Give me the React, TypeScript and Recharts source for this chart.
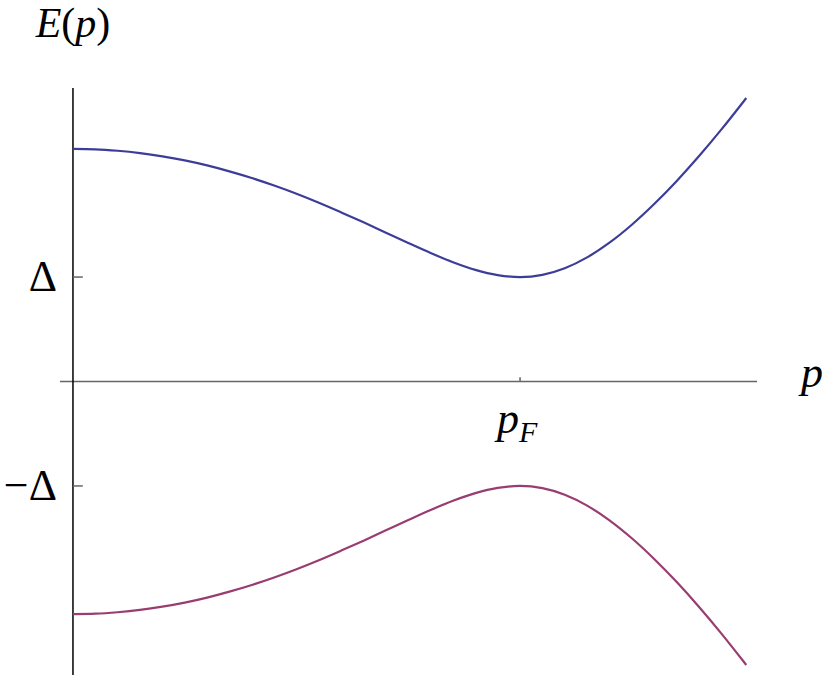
import { LineChart, Line, XAxis, YAxis, ReferenceLine } from "recharts";

// momentum in units of p_F, energy in units of Delta
const pValues = [0, 0.05, 0.1, 0.15, 0.2, 0.25, 0.3, 0.35, 0.4, 0.45, 0.5, 0.55, 0.6, 0.65, 0.7, 0.75, 0.8, 0.85, 0.9, 0.95, 1, 1.05, 1.1, 1.15, 1.2, 1.25, 1.3, 1.35, 1.4, 1.45, 1.5, 1.506];
const upperE = [2.227, 2.223, 2.209, 2.187, 2.156, 2.117, 2.069, 2.012, 1.948, 1.876, 1.797, 1.711, 1.619, 1.524, 1.425, 1.326, 1.23, 1.142, 1.069, 1.019, 1.0, 1.021, 1.084, 1.188, 1.329, 1.501, 1.699, 1.918, 2.156, 2.411, 2.681, 2.714];
const lowerE = [-2.227, -2.223, -2.209, -2.187, -2.156, -2.117, -2.069, -2.012, -1.948, -1.876, -1.797, -1.711, -1.619, -1.524, -1.425, -1.326, -1.23, -1.142, -1.069, -1.019, -1.0, -1.021, -1.084, -1.188, -1.329, -1.501, -1.699, -1.918, -2.156, -2.411, -2.681, -2.714];

const data = pValues.map((p, i) => ({ p, upper: upperE[i], lower: lowerE[i] }));

const txt = { fontFamily: '"Liberation Serif", "Times New Roman", serif' };
const gray = "#666";

export default function App() {
  return (
    <div style={{ position: "absolute", left: 0, top: 0 }}>
      <LineChart width={830} height={676} data={data} margin={{ top: 88, right: 73, bottom: 1, left: 60 }}>
        <XAxis type="number" dataKey="p" domain={[-0.029, 1.53]} hide allowDataOverflow />
        <YAxis type="number" domain={[-2.81, 2.81]} hide allowDataOverflow />

        {/* x axis with p label */}
        <ReferenceLine y={0} stroke={gray} strokeWidth={1.5}
          label={(props: any) => {
            const vb = props.viewBox;
            return <text x={vb.x + vb.width + 44} y={vb.y + 5} style={txt} fontSize={44} fontStyle="italic" fill="#000">p</text>;
          }} />
        {/* y axis with E(p) label */}
        <ReferenceLine x={0} stroke="#000" strokeWidth={1.5}
          label={(props: any) => {
            const vb = props.viewBox;
            return (
              <text x={vb.x} y={vb.y - 51} textAnchor="middle" style={txt} fontSize={42} fill="#000">
                <tspan fontStyle="italic">E</tspan>(<tspan fontStyle="italic">p</tspan>)
              </text>
            );
          }} />

        {/* ticks */}
        <ReferenceLine segment={[{ x: 0, y: 1 }, { x: 0.022, y: 1 }]} stroke={gray} strokeWidth={1.5}
          label={(props: any) => {
            const vb = props.viewBox;
            return <text x={vb.x - 16} y={vb.y + 14} textAnchor="end" style={txt} fontSize={44} fill="#000">Δ</text>;
          }} />
        <ReferenceLine segment={[{ x: 0, y: -1 }, { x: 0.022, y: -1 }]} stroke={gray} strokeWidth={1.5}
          label={(props: any) => {
            const vb = props.viewBox;
            return <text x={vb.x - 16} y={vb.y + 14} textAnchor="end" style={txt} fontSize={44} fill="#000">−Δ</text>;
          }} />
        <ReferenceLine segment={[{ x: 1, y: 0 }, { x: 1, y: 0.04 }]} stroke={gray} strokeWidth={1.5}
          label={(props: any) => {
            const vb = props.viewBox;
            return (
              <text x={vb.x - 23} y={vb.y + vb.height + 51} style={txt} fontSize={44} fontStyle="italic" fill="#000">
                p<tspan fontSize={30} dy={9}>F</tspan>
              </text>
            );
          }} />

        <Line type="monotone" dataKey="upper" stroke="#3d3d99" strokeWidth={2.2} dot={false} isAnimationActive={false} />
        <Line type="monotone" dataKey="lower" stroke="#993d71" strokeWidth={2.2} dot={false} isAnimationActive={false} />
      </LineChart>
    </div>
  );
}
